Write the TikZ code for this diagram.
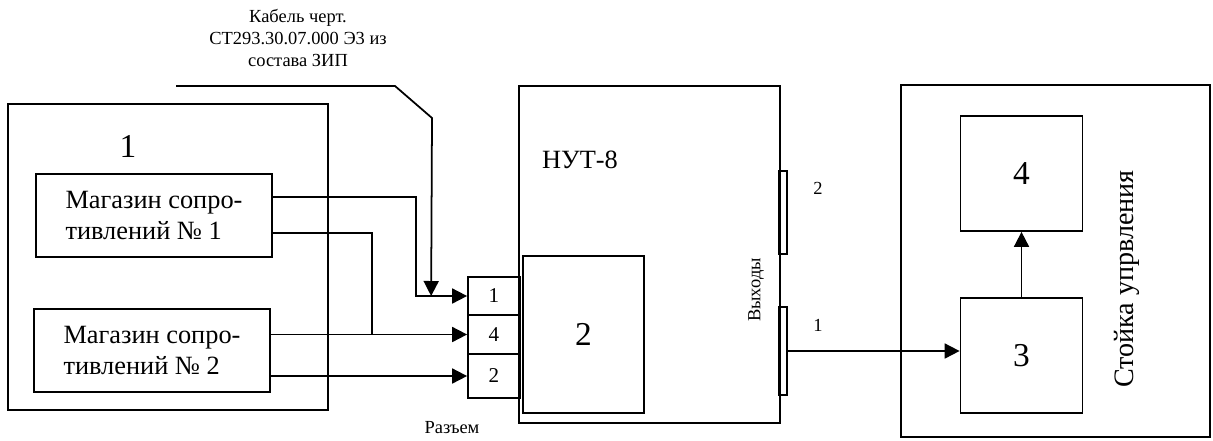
\documentclass[tikz,border=0pt]{standalone}
\usepackage{fontspec}
\setmainfont{Liberation Serif}
\usetikzlibrary{arrows.meta,positioning}

\begin{document}
\begin{tikzpicture}[x=0.02cm, y=-0.02cm,
      blk/.style={draw, line width=1pt, inner sep=0pt, font=\fontsize{15}{18}\selectfont},
      big/.style={font=\fontsize{19}{22}\selectfont},
      small/.style={font=\fontsize{10.5}{12.5}\selectfont},
      pin/.style={blk, font=\fontsize{12}{14}\selectfont, minimum width=1.04cm},
      wire/.style={line width=1pt},
      >={Triangle[length=3mm,width=3mm]}]
    \useasboundingbox (0,0) rectangle (1213,440);
    % left group: resistance boxes
    \node[blk, minimum width=6.4cm, minimum height=6.12cm] (grp) at (168,257) {};
    \node[big] (grpnum) at (128,146) {1};
    \node[blk, minimum width=4.72cm, minimum height=1.66cm, align=left] (mag1) at (154,215.5)
      {Магазин сопро-\\тивлений № 1};
    \node[blk, minimum width=4.72cm, minimum height=1.66cm, align=left] (mag2) at (152,350.5)
      {Магазин сопро-\\тивлений № 2};
    % НУТ-8
    \node[blk, minimum width=5.22cm, minimum height=6.74cm] (nut) at (649.5,254.5) {};
    \node[font=\fontsize{15}{18}\selectfont] (nutname) at (580,160) {НУТ-8};
    \node[blk, big, minimum width=2.42cm, minimum height=3.14cm] (dev) at (583.5,334.5) {2};
    \node[pin, minimum height=0.76cm] (c1) at (494,296) {1};
    \node[pin, minimum height=0.78cm] (c4) at (494,334.5) {4};
    \node[pin, minimum height=0.88cm] (c2) at (494,376) {2};
    \node[small] (plug) at (452,428) {Разъем};
    \node[blk, minimum width=0.16cm, minimum height=1.66cm] (out2) at (783,212.5) {};
    \node[blk, minimum width=0.16cm, minimum height=1.76cm] (out1) at (783,351) {};
    \node[small] (out2num) at (818,188) {2};
    \node[small] (out1num) at (818,325) {1};
    \node[small, rotate=90] (outs) at (756,290) {Выходы};
    % control rack
    \node[blk, minimum width=6.18cm, minimum height=7.04cm] (rack) at (1055.5,261) {};
    \node[blk, big, minimum width=2.44cm, minimum height=2.3cm] (dev3) at (1021.5,355.5) {3};
    \node[blk, big, minimum width=2.44cm, minimum height=2.3cm] (dev4) at (1021.5,173.5) {4};
    \node[rotate=90, font=\fontsize{16}{19}\selectfont] (rackname) at (1127,279) {Стойка упрвления};
    % cable callout
    \node[small, align=center] (cabtxt) at (298,38)
      {Кабель черт.\\СТ293.30.07.000 Э3 из\\состава ЗИП};
    \coordinate (cabA) at (176,86);
    \coordinate (cabB) at (395,86);
    \coordinate (cabC) at (432,118);
    % wires
    \draw[wire,->] ([yshift=.37cm]mag1.east) -| ([xshift=-1.02cm]c1.west) -- (c1.west);
    \draw[wire] ([yshift=-.35cm]mag1.east) -| ([xshift=-1.9cm]c4.west);
    \draw[wire,->] (mag2.east |- c4.west) -- (c4.west);
    \draw[wire,->] (mag2.east |- c2.west) -- (c2.west);
    \draw[wire,->] (cabA) -- (cabB) -- (cabC) -- ([xshift=-.72cm]c1.west);
    \draw[wire,->] (out1.east) -- (out1.east -| dev3.west);
    \draw[wire,->] (dev3.north) -- (dev4.south);
  \end{tikzpicture}
\end{document}
